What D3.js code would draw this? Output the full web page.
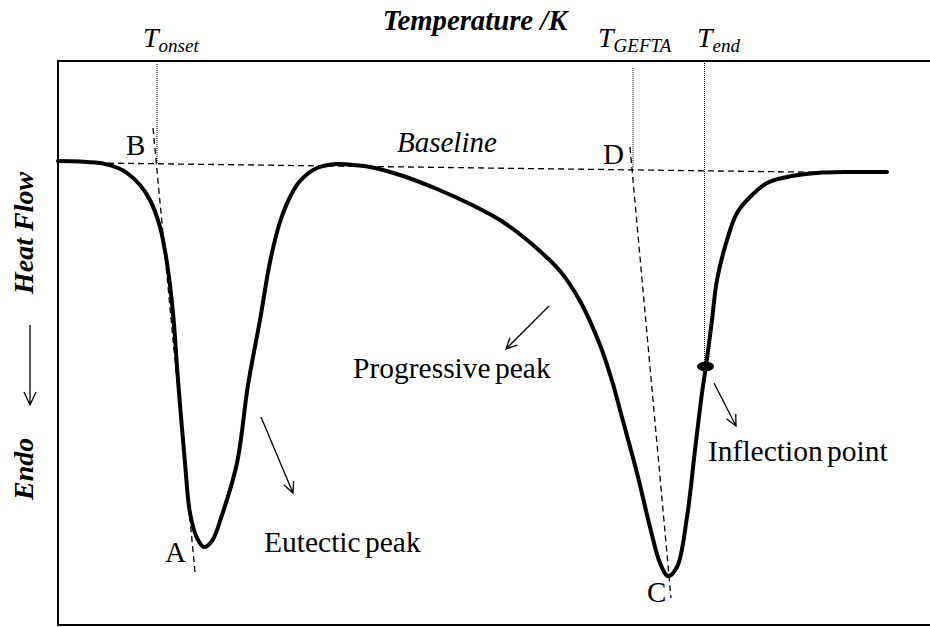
<!DOCTYPE html>
<html>
<head>
<meta charset="utf-8">
<script src="https://cdn.jsdelivr.net/npm/d3@7"></script>
<style>
  body { margin: 0; background: #fff; }
</style>
</head>
<body>
<svg id="chart" width="930" height="627"></svg>
<script>
// DSC trace, arbitrary units (temperature increases to the right, endo is down)
var temperature = [0, 22, 45, 60, 69, 82, 92, 102, 109, 115, 120, 127, 132, 139, 146, 154, 164, 179, 190,
  202, 212, 222, 232, 242, 259, 279, 295, 312, 345, 379, 412, 445, 475, 502, 522, 542, 555, 562, 579,
  592, 602, 610, 619, 629, 637, 644, 648, 654, 659, 669, 679, 692, 709, 729, 759, 792, 829];
var heatFlow = [464, 463.5, 461.5, 457, 452, 440, 425, 398, 362, 312, 245, 162, 112, 87, 78, 84, 110, 162, 240,
  305, 363, 403, 428, 444, 457, 461, 460, 458, 449, 436, 421, 403, 380, 354, 324, 280, 241, 215, 152,
  98, 62, 49, 58, 108, 175, 232, 259, 305, 345, 385, 412, 428, 442, 448, 452, 453, 453];

// construction lines: [T1, HF1, T2, HF2]
var baselineLine = [40, 462, 777, 452.5];
var tangentA = [95, 497, 137, 53];
var tangentC = [572, 478, 613, 27];
// dotted markers: [T, HF top, HF bottom]
var markers = [[99, 561, 462], [575, 557, 457], [646.5, 562, 263]];
var markerNames = [["T", "onset"], ["T", "GEFTA"], ["T", "end"]];
var markerLabelT = [85, 540, 639];
var inflection = [647.5, 258.5];

// annotation arrows: [T from, HF from, T to, HF to]
var arrows = [[203, 208, 235, 132], [491, 319, 448, 276], [656, 242, 678, 199]];
var letters = ["A", "B", "C", "D"];
var letterPos = [[107, 63], [68, 470], [589, 23], [545, 461]];
var notes = ["Eutectic peak", "Progressive peak", "Inflection point"];
var notePos = [[206, 73], [295, 247], [650, 164]];

var serif = "'Liberation Serif', 'Times New Roman', 'DejaVu Serif', serif";
var svg = d3.select("#chart");
var margin = { top: 61, left: 58 };

var x = d3.scaleLinear().domain([0, 872]).range([margin.left, 930]);
var y = d3.scaleLinear().domain([0, 564]).range([625, margin.top]);

// frame (right side runs off the picture)
svg.append("rect")
  .attr("x", x(0)).attr("y", y(564))
  .attr("width", 900).attr("height", y(0) - y(564))
  .attr("fill", "none").attr("stroke", "#000").attr("stroke-width", 2);

function segment(d, dash, w) {
  svg.append("line")
    .attr("x1", x(d[0])).attr("y1", y(d[1]))
    .attr("x2", x(d[2])).attr("y2", y(d[3]))
    .attr("stroke", "#000").attr("stroke-width", w)
    .attr("stroke-dasharray", dash);
}

segment(baselineLine, "6,4", 1.3);
segment(tangentA, "6,4", 1.3);
segment(tangentC, "6,4", 1.3);
markers.forEach(function (m) {
  segment([m[0], m[1], m[0], m[2]], "1,1", 1);
});

// the trace
var pts = temperature.map(function (t, i) { return [t, heatFlow[i]]; });
var line = d3.line()
  .x(function (d) { return x(d[0]); })
  .y(function (d) { return y(d[1]); })
  .curve(d3.curveCatmullRom.alpha(0.5));

svg.append("path")
  .datum(pts)
  .attr("d", line)
  .attr("fill", "none")
  .attr("stroke", "#000")
  .attr("stroke-width", 4)
  .attr("stroke-linecap", "round");

svg.append("ellipse")
  .attr("cx", x(inflection[0])).attr("cy", y(inflection[1]))
  .attr("rx", 8.5).attr("ry", 4.8)
  .attr("fill", "#000");

// open arrow helper
function arrow(x1, y1, x2, y2) {
  var a = Math.atan2(y2 - y1, x2 - x1), len = 12, spread = 0.45;
  var p = "M" + x1 + "," + y1 + "L" + x2 + "," + y2 +
    "M" + (x2 - len * Math.cos(a - spread)) + "," + (y2 - len * Math.sin(a - spread)) +
    "L" + x2 + "," + y2 +
    "L" + (x2 - len * Math.cos(a + spread)) + "," + (y2 - len * Math.sin(a + spread));
  svg.append("path").attr("d", p)
    .attr("fill", "none").attr("stroke", "#000").attr("stroke-width", 1.3);
}
arrows.forEach(function (a) { arrow(x(a[0]), y(a[1]), x(a[2]), y(a[3])); });

// point letters
letters.forEach(function (l, i) {
  svg.append("text")
    .attr("x", x(letterPos[i][0])).attr("y", y(letterPos[i][1]))
    .attr("font-family", serif)
    .style("font-size", "29px")
    .text(l);
});

notes.forEach(function (n, i) {
  svg.append("text")
    .attr("x", x(notePos[i][0])).attr("y", y(notePos[i][1]))
    .attr("font-family", serif)
    .style("font-size", "29.5px")
    .style("word-spacing", "-3px")
    .text(n);
});

svg.append("text")
  .attr("x", x(339)).attr("y", y(473))
  .attr("font-family", serif)
  .style("font-size", "29px").style("font-style", "italic")
  .text("Baseline");

// temperature marker labels above the frame
markerNames.forEach(function (m, i) {
  var t = svg.append("text")
    .attr("x", x(markerLabelT[i])).attr("y", 47)
    .attr("font-family", serif)
    .style("font-size", "28px").style("font-style", "italic");
  t.append("tspan").text(m[0]);
  t.append("tspan").attr("dy", 5).style("font-size", "19px").text(m[1]);
});

// axis titles
svg.append("text")
  .attr("x", 475).attr("y", 30)
  .attr("text-anchor", "middle")
  .attr("font-family", serif)
  .style("font-size", "28.7px").style("font-weight", "bold").style("font-style", "italic")
  .text("Temperature /K");

svg.append("text")
  .attr("transform", "translate(33,500) rotate(-90)")
  .attr("font-family", serif)
  .style("font-size", "28px").style("font-weight", "bold").style("font-style", "italic")
  .text("Endo");
svg.append("text")
  .attr("transform", "translate(33,294) rotate(-90)")
  .attr("font-family", serif)
  .style("font-size", "28px").style("font-weight", "bold").style("font-style", "italic")
  .text("Heat Flow");
svg.append("path")
  .attr("d", "M30,325L30,405M24,392L30,405L36,392")
  .attr("fill", "none").attr("stroke", "#000").attr("stroke-width", 1.3);
</script>
</body>
</html>
